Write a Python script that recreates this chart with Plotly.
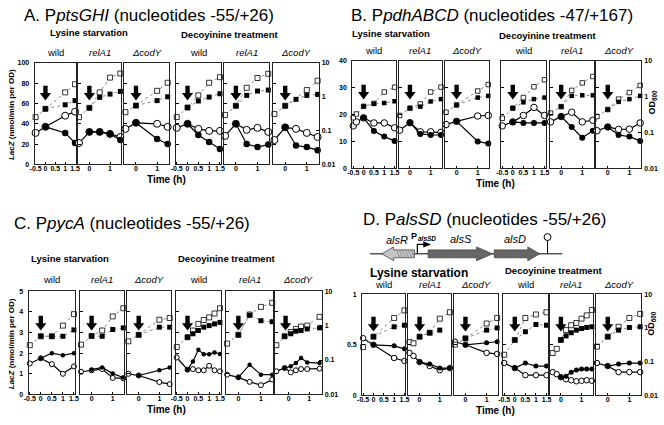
import plotly.graph_objects as go

W, H = 664, 425
FONT = "Liberation Sans, Arial, Helvetica, sans-serif"

# ---------------- data (time in h; OD600 and LacZ in nmol/min per OD) ----------------
# odo/odf: OD600 without / with treatment (open / filled squares)
# lzo/lzf: LacZ activity without / with treatment (open / filled circles)
A_LYS_WILD = dict(odo=([-0.5, 0, 1, 1.5], [0.25, 0.44, 1.35, 2.35]),
                  odf=([0, 1, 1.5], [0.44, 0.58, 0.77]),
                  lzo=([-0.5, 0, 1, 1.5], [31, 37, 48, 52]),
                  lzf=([0, 1, 1.5], [37, 31, 21]))
A_LYS_REL = dict(odo=([-0.5, 0, 0.5, 1, 1.5], [0.25, 0.47, 1.35, 3.7, 4.9]),
                 odf=([0, 0.5, 1, 1.5], [0.47, 0.96, 1.2, 1.44]),
                 lzo=([-0.5, 0, 0.5, 1, 1.5], [21, 32, 32, 30, 27]),
                 lzf=([0, 0.5, 1, 1.5], [32, 32, 30, 24]))
A_LYS_COD = dict(odo=([-0.5, 0, 1, 1.5], [0.35, 0.55, 1.5, 2.6]),
                 odf=([0, 1, 1.5], [0.55, 0.77, 1.0]),
                 lzo=([-0.5, 0, 1, 1.5], [35, 41, 40, 37]),
                 lzf=([0, 1, 1.5], [41, 25, 20]))
A_DEC_WILD = dict(odo=([-0.5, 0, 0.5, 1, 1.5], [0.25, 0.48, 1.1, 2.6, 3.8]),
                  odf=([0, 0.5, 1, 1.5], [0.48, 0.75, 0.98, 1.23]),
                  lzo=([-0.5, 0, 0.5, 1, 1.5], [36, 40, 35, 33, 33]),
                  lzf=([0, 0.5, 1, 1.5], [40, 29, 22, 15]))
A_DEC_REL = dict(odo=([-0.5, 0, 0.5, 1, 1.5], [0.29, 0.54, 1.85, 3.6, 4.8]),
                 odf=([0, 0.5, 1, 1.5], [0.54, 1.1, 1.48, 1.58]),
                 lzo=([-0.5, 0, 0.5, 1, 1.5], [28, 40, 34, 36, 32]),
                 lzf=([0, 0.5, 1, 1.5], [40, 20, 17, 19.5]))
A_DEC_COD = dict(odo=([-0.5, 0, 1, 1.5], [0.31, 0.54, 1.58, 3.0]),
                 odf=([0, 0.5, 1, 1.5], [0.54, 0.84, 1.1, 1.18]),
                 lzo=([-0.5, 0, 0.5, 1, 1.5], [24, 36.5, 35, 31, 27]),
                 lzf=([0, 0.5, 1, 1.5], [36.5, 18.6, 17, 14]))

B_LYS_WILD = dict(odo=([-0.5, -0.35, 0, 0.5, 1, 1.5], [0.26, 0.33, 0.54, 0.65, 1.36, 1.86]),
                  odf=([0, 0.5, 1, 1.5], [0.54, 0.64, 0.67, 0.75]),
                  lzo=([-0.5, -0.35, 0, 0.5, 1, 1.5], [15.8, 17.3, 18.8, 16.9, 16.9, 15.1]),
                  lzf=([0, 0.5, 1, 1.5], [18.8, 13.9, 11.8, 10.2]))
B_LYS_REL = dict(odo=([-0.5, 0, 0.5, 1, 1.5], [0.30, 0.48, 0.63, 1.36, 1.86]),
                 odf=([0, 0.5, 1, 1.5], [0.48, 0.53, 0.74, 0.86]),
                 lzo=([-0.5, 0, 0.5, 1, 1.5], [14.2, 17.0, 13.6, 13.6, 13.4]),
                 lzf=([0, 0.5, 1, 1.5], [17.0, 12.8, 12.4, 12.4]))
B_LYS_COD = dict(odo=([-0.5, 0, 1, 1.5], [0.37, 0.59, 1.45, 2.2]),
                 odf=([0, 1, 1.5], [0.59, 0.95, 1.06]),
                 lzo=([-0.5, 0, 1, 1.5], [16.3, 17.5, 19.5, 19.7]),
                 lzf=([0, 1, 1.5], [17.5, 10.0, 9.2]))
B_DEC_WILD = dict(odo=([-0.5, 0, 0.5, 1, 1.5], [0.25, 0.48, 0.95, 1.9, 3.0]),
                  odf=([0, 0.5, 1, 1.5], [0.48, 0.70, 0.86, 0.95]),
                  lzo=([-0.5, 0, 0.5, 1, 1.5], [15.8, 17.3, 19.7, 22.7, 19.7]),
                  lzf=([0, 0.5, 1, 1.5], [17.3, 16.9, 16.9, 16.9]))
B_DEC_REL = dict(odo=([-0.5, 0, 0.5, 1, 1.5], [0.35, 0.53, 1.51, 2.45, 3.7]),
                 odf=([0, 0.5, 1, 1.5], [0.53, 1.06, 1.10, 1.10]),
                 lzo=([-0.5, 0, 0.5, 1, 1.5], [17.3, 19.3, 20.9, 17.3, 17.9]),
                 lzf=([0, 0.5, 1, 1.5], [19.3, 15.4, 11.4, 14.0]))
B_DEC_COD = dict(odo=([-0.5, 0, 0.5, 1, 1.5], [0.28, 0.44, 0.86, 1.31, 2.07]),
                 odf=([0, 0.5, 1, 1.5], [0.44, 0.72, 0.86, 1.06]),
                 lzo=([-0.5, 0, 0.5, 1, 1.5], [14.0, 15.4, 14.5, 14.6, 16.9]),
                 lzf=([0, 0.5, 1, 1.5], [15.4, 12.4, 11.8, 10.2]))

C_LYS_WILD = dict(odo=([-0.5, 0, 0.5, 1, 1.5], [0.27, 0.49, 0.49, 1.0, 2.15]),
                  odf=([0, 0.5, 1, 1.5], [0.49, 0.49, 0.49, 0.75]),
                  lzo=([-0.5, 0, 0.5, 1, 1.5], [1.5, 1.75, 1.47, 1.0, 1.36]),
                  lzf=([0, 0.5, 1, 1.5], [1.75, 2.0, 1.9, 2.0]))
C_LYS_REL = dict(odo=([-0.5, 0, 0.5, 1, 1.5], [0.28, 0.50, 0.72, 1.85, 3.2]),
                 odf=([0, 0.5, 1, 1.5], [0.50, 0.49, 0.77, 0.86]),
                 lzo=([-0.5, 0, 0.5, 1, 1.5], [1.1, 1.17, 1.23, 0.8, 0.78]),
                 lzf=([0, 0.5, 1, 1.5], [1.2, 1.31, 1.01, 0.82]))
C_LYS_COD = dict(odo=([-0.5, 0, 1, 1.5], [0.35, 0.54, 1.48, 1.66]),
                 odf=([0, 1, 1.5], [0.54, 0.9, 0.9]),
                 lzo=([-0.5, 0, 1, 1.5], [1.0, 0.92, 0.6, 0.5]),
                 lzf=([0, 1, 1.5], [0.92, 1.17, 1.3]))
C_DEC_WILD = dict(odo=([-0.5, 0, 0.25, 0.5, 0.75, 1, 1.25, 1.5], [0.24, 0.46, 0.72, 1.12, 1.45, 1.73, 2.25, 3.2]),
                  odf=([0, 0.25, 0.5, 0.75, 1, 1.25, 1.5], [0.46, 0.58, 0.72, 0.9, 1.0, 1.12, 1.24]),
                  lzo=([-0.5, 0, 0.25, 0.5, 0.75, 1, 1.25, 1.5], [1.79, 1.2, 1.23, 1.17, 1.17, 1.39, 1.17, 1.12]),
                  lzf=([0, 0.25, 0.5, 0.75, 1, 1.25, 1.5], [1.2, 1.6, 2.16, 1.95, 1.95, 2.03, 1.96]))
C_DEC_REL = dict(odo=([-0.5, 0, 0.5, 1, 1.5], [0.30, 0.54, 2.1, 3.5, 4.6]),
                 odf=([0, 0.5, 1, 1.5], [0.54, 2.0, 1.39, 1.3]),
                 lzo=([-0.5, 0, 0.5, 1, 1.5], [0.96, 0.83, 0.61, 0.45, 0.72]),
                 lzf=([0, 0.5, 1, 1.5], [0.83, 1.44, 0.96, 0.96]))
C_DEC_COD = dict(odo=([-0.6, -0.2, 0.1, 0.35, 0.6, 0.9, 1.5], [0.27, 0.49, 0.65, 0.80, 0.94, 1.0, 1.8]),
                 odf=([-0.2, 0.1, 0.35, 0.6, 0.9, 1.5], [0.49, 0.58, 0.69, 0.72, 0.80, 0.86]),
                 lzo=([-0.6, -0.2, 0.1, 0.35, 0.6, 0.9, 1.5], [1.12, 1.28, 1.07, 1.17, 1.23, 1.23, 1.25]),
                 lzf=([-0.2, 0.1, 0.35, 0.6, 0.9, 1.5], [1.28, 1.36, 1.52, 1.76, 1.55, 1.52]))

D_LYS_WILD = dict(odo=([-0.5, 0, 1, 1.5], [0.27, 0.55, 1.97, 3.3]),
                  odf=([0, 1, 1.5], [0.55, 1.08, 1.2]),
                  lzo=([-0.5, 0, 1, 1.5], [0.565, 0.5, 0.37, 0.34]),
                  lzf=([0, 1, 1.5], [0.5, 0.49, 0.46]))
D_LYS_REL = dict(odo=([-0.5, -0.3, 0, 0.5, 1, 1.5], [0.38, 0.35, 0.55, 0.72, 1.88, 2.9]),
                 odf=([0, 0.5, 1], [0.55, 0.72, 0.86]),
                 lzo=([-0.5, -0.3, 0, 0.5, 1, 1.5], [0.42, 0.39, 0.33, 0.29, 0.25, 0.27]),
                 lzf=([0, 0.5, 1, 1.5], [0.33, 0.31, 0.27, 0.27]))
D_LYS_COD = dict(odo=([-0.5, 0, 1, 1.5], [0.32, 0.49, 1.35, 1.97]),
                 odf=([0, 1, 1.5], [0.49, 0.86, 1.0]),
                 lzo=([-0.5, 0, 1, 1.5], [0.53, 0.5, 0.42, 0.41]),
                 lzf=([0, 1, 1.5], [0.5, 0.52, 0.53]))
D_DEC_WILD = dict(odo=([-0.5, 0, 0.5, 1, 1.5], [0.16, 0.44, 1.97, 2.5, 2.9]),
                  odf=([0, 0.5, 1, 1.5], [0.44, 0.77, 1.26, 1.2]),
                  lzo=([-0.5, 0, 0.5, 1, 1.5], [0.32, 0.27, 0.2, 0.2, 0.2]),
                  lzf=([0, 0.5, 1, 1.5], [0.27, 0.32, 0.29, 0.29]))
D_DEC_REL = dict(odo=([-0.4, -0.2, 0, 0.25, 0.5, 0.75, 1, 1.25, 1.5], [0.18, 0.24, 0.44, 0.86, 1.2, 1.4, 1.88, 2.35, 3.4]),
                 odf=([0, 0.25, 0.5, 0.75, 1, 1.25, 1.5], [0.44, 0.58, 0.72, 0.86, 0.96, 1.03, 1.08]),
                 lzo=([-0.4, -0.2, 0, 0.25, 0.5, 0.75, 1, 1.25, 1.5], [0.23, 0.21, 0.18, 0.16, 0.15, 0.14, 0.145, 0.15, 0.145]),
                 lzf=([0, 0.25, 0.5, 0.75, 1, 1.25, 1.5], [0.18, 0.19, 0.23, 0.25, 0.26, 0.26, 0.26]))
D_DEC_COD = dict(odo=([-0.5, 0, 0.5, 1, 1.5], [0.28, 0.55, 1.08, 1.97, 2.6]),
                 odf=([0, 0.5, 1, 1.5], [0.55, 0.86, 1.03, 1.08]),
                 lzo=([-0.5, 0, 0.5, 1, 1.5], [0.32, 0.29, 0.23, 0.23, 0.23]),
                 lzf=([0, 0.5, 1, 1.5], [0.29, 0.31, 0.32, 0.32]))

STRAINS = ["wild", "<i>relA1</i>", "<i>\u0394codY</i>"]
WILD_TICKS = [-0.5, 0, 0.5, 1, 1.5]
MUT_TICKS = [0, 1]
OD_TICKS = [0.01, 0.1, 1, 10]

# ---------------- layout configuration (pixels) ----------------
PANELS = [
    dict(title="A. P<i>ptsGHI</i> (nucleotides -55/+26)", tx=17, ty=12,
         subs=[A_LYS_WILD, A_LYS_REL, A_LYS_COD, A_DEC_WILD, A_DEC_REL, A_DEC_COD],
         boxes=[(30, 72), (74, 118), (121, 166), (173, 219), (222, 268), (272, 318)],
         ybox=(60, 163), ymax=100, dtick=20, arrow_tip=98, csize=7, ssize=5,
         lys=(85, 29, 9.5), dec=(228, 31), strain_y=49, time=(164, 178),
         lacz=(6, 112), od=None),
    dict(title="B. P<i>pdhABCD</i> (nucleotides -47/+167)", tx=349, ty=12,
         subs=[B_LYS_WILD, B_LYS_REL, B_LYS_COD, B_DEC_WILD, B_DEC_REL, B_DEC_COD],
         boxes=[(352, 396), (399, 443), (446, 491), (503, 548), (552, 597), (599, 645)],
         ybox=(58, 167), ymax=40, dtick=10, arrow_tip=97, csize=6.5, ssize=4.5,
         lys=(391, 30, 9.5), dec=(550, 32), strain_y=47, time=(497, 182),
         lacz=None, od=(656, 100)),
    dict(title="C. P<i>pycA</i> (nucleotides -55/+26)", tx=7, ty=223,
         subs=[C_LYS_WILD, C_LYS_REL, C_LYS_COD, C_DEC_WILD, C_DEC_REL, C_DEC_COD],
         boxes=[(24, 71), (76, 121), (124, 168), (173, 219), (224, 272), (274, 321)],
         ybox=(292, 397), ymax=5, dtick=1, arrow_tip=332, csize=5, ssize=5,
         lys=(66, 259, 9.5), dec=(225, 259), strain_y=280, time=(164, 412),
         lacz=(6, 345), od=None),
    dict(title="D. P<i>alsSD</i> (nucleotides -55/+26)", tx=361, ty=219,
         subs=[D_LYS_WILD, D_LYS_REL, D_LYS_COD, D_DEC_WILD, D_DEC_REL, D_DEC_COD],
         boxes=[(362, 406), (409, 452), (455, 500), (505, 550), (552, 596), (599, 645)],
         ybox=(295, 398), ymax=1, dtick=0.5, arrow_tip=333, csize=5.5, ssize=5,
         lys=(420, 274, 12), dec=(556, 271), strain_y=285, time=(497, 413),
         lacz=None, od=(656, 325)),
]


def axname(prefix, n):
    return prefix if n == 1 else f"{prefix}{n}"


tickfont = dict(family=FONT, size=7, color="black", weight="bold")
fig = go.Figure()
layout = {}
shapes = []
annotations = []

PX_X, PX_Y = 25, 49  # hidden pixel-coordinate axes


def ann(x, y, text, size, **kw):
    d = dict(x=x, y=y, xref=f"x{PX_X}", yref=f"y{PX_Y}", text=text, showarrow=False,
             font=dict(family=FONT, size=size, color="black"))
    d.update(kw)
    annotations.append(d)


sp = 0
for P in PANELS:
    y0, y1 = P["ybox"]
    for bi, (sub, (bx0, bx1)) in enumerate(zip(P["subs"], P["boxes"])):
        sp += 1
        xa, yl, yr = axname("x", sp), axname("y", 2 * sp - 1), axname("y", 2 * sp)
        ticks = WILD_TICKS if bi in (0, 3) else MUT_TICKS
        xr = [-0.55, 1.55]
        if sub is C_DEC_COD:
            xr = [-0.65, 1.6]
        layout[axname("xaxis", sp)] = dict(
            domain=[bx0 / W, bx1 / W], range=xr, anchor=yl,
            tickvals=ticks, ticktext=[("%g" % t) for t in ticks], tickangle=0,
            ticks="inside", ticklen=2, tickcolor="black", ticklabelstandoff=-3,
            showline=True, mirror=True, linecolor="#222", linewidth=1,
            showgrid=False, zeroline=False, tickfont=tickfont, fixedrange=True)
        ydom = [1 - y1 / H, 1 - y0 / H]
        layout[axname("yaxis", 2 * sp - 1)] = dict(
            domain=ydom, range=[0, P["ymax"]], anchor=xa, dtick=P["dtick"],
            ticks="inside", ticklen=3, tickcolor="black", ticklabelstandoff=3,
            showticklabels=(bi == 0), showline=True, mirror=True,
            linecolor="#222", linewidth=1, showgrid=False, zeroline=False,
            tickfont=tickfont, fixedrange=True)
        layout[axname("yaxis", 2 * sp)] = dict(
            domain=ydom, type="log", range=[-2, 1], anchor=xa, overlaying=yl,
            side="right", tickvals=OD_TICKS, ticktext=["0.01", "0.1", "1", "10"],
            ticks="inside" if bi == 5 else "", ticklen=3, tickcolor="black",
            ticklabelstandoff=2,
            showticklabels=(bi == 5), visible=(bi == 5), showline=False,
            showgrid=False, zeroline=False, tickfont=tickfont, fixedrange=True)

        cs, ss = P["csize"], P["ssize"]
        # LacZ circles
        fig.add_trace(go.Scatter(x=sub["lzo"][0], y=sub["lzo"][1], xaxis=xa, yaxis=yl,
                                 mode="lines+markers", cliponaxis=False,
                                 line=dict(color="black", width=1.2),
                                 marker=dict(symbol="circle", size=cs, color="white",
                                             line=dict(color="black", width=1)),
                                 showlegend=False, hoverinfo="skip"))
        fig.add_trace(go.Scatter(x=sub["lzf"][0], y=sub["lzf"][1], xaxis=xa, yaxis=yl,
                                 mode="lines+markers", cliponaxis=False,
                                 line=dict(color="black", width=1.2),
                                 marker=dict(symbol="circle", size=cs - 0.5, color="black"),
                                 showlegend=False, hoverinfo="skip"))
        # OD squares (log axis)
        fig.add_trace(go.Scatter(x=sub["odo"][0], y=sub["odo"][1], xaxis=xa, yaxis=yr,
                                 mode="lines+markers", cliponaxis=False,
                                 line=dict(color="#8a8a8a", width=1, dash="dot"),
                                 marker=dict(symbol="square", size=ss, color="white",
                                             line=dict(color="black", width=0.8)),
                                 showlegend=False, hoverinfo="skip"))
        fig.add_trace(go.Scatter(x=sub["odf"][0], y=sub["odf"][1], xaxis=xa, yaxis=yr,
                                 mode="lines+markers", cliponaxis=False,
                                 line=dict(color="#8a8a8a", width=1, dash="dot"),
                                 marker=dict(symbol="square", size=ss, color="black"),
                                 showlegend=False, hoverinfo="skip"))

        # treatment arrow
        tip = P["arrow_tip"]
        ax_t = -0.15 if sub is C_DEC_COD else 0
        shapes.append(dict(type="path", xref=xa, yref=f"y{PX_Y}", xsizemode="pixel",
                           xanchor=ax_t,
                           path=(f"M-2.2,{tip-15} L2.2,{tip-15} L2.2,{tip-7.5} L5.6,{tip-7.5} "
                                 f"L0,{tip} L-5.6,{tip-7.5} L-2.2,{tip-7.5} Z"),
                           fillcolor="black", line=dict(width=0)))
        # strain label
        ann((bx0 + bx1) / 2, P["strain_y"], STRAINS[bi % 3], 9.5)

    # panel texts
    ann(P["tx"], P["ty"], P["title"], 17, xanchor="left")
    lx, ly, ls = P["lys"]
    ann(lx, ly, "<b>Lysine starvation</b>", ls)
    ann(P["dec"][0], P["dec"][1], "<b>Decoyinine treatment</b>", 9.5)
    ann(P["time"][0], P["time"][1], "<b>Time (h)</b>", 10)
    if P["lacz"]:
        ann(P["lacz"][0], P["lacz"][1], "<b><i>LacZ</i> (nmol/min per OD)</b>", 8, textangle=-90)
    if P["od"]:
        ann(P["od"][0], P["od"][1], "<b>OD<sub>600</sub></b>", 9, textangle=-90)

# ---------------- gene map (panel D) ----------------
def pxshape(**kw):
    d = dict(xref=f"x{PX_X}", yref=f"y{PX_Y}")
    d.update(kw)
    shapes.append(d)


pxshape(type="line", x0=370, y0=254, x1=565, y1=254, line=dict(color="black", width=1))
pxshape(type="path", path="M382,254 L394,247 L394,250 L415,250 L415,258 L394,258 L394,261 Z",
        fillcolor="#c4c4c4", line=dict(color="#444", width=0.8))
for k in range(6):
    xx = 397 + 3 * k
    pxshape(type="line", x0=xx, y0=250, x1=xx + 3, y1=258, line=dict(color="#777", width=0.6))
pxshape(type="path", path="M429,250 L478,250 L478,247 L494,254 L478,261 L478,258 L429,258 Z",
        fillcolor="#666", line=dict(color="#444", width=0.8))
pxshape(type="path", path="M496,250 L530,250 L530,247 L542,254 L530,261 L530,258 L496,258 Z",
        fillcolor="#666", line=dict(color="#444", width=0.8))
pxshape(type="path", path="M418,254 L418,244.5 L425,244.5", line=dict(color="black", width=1.2))
pxshape(type="path", path="M424,241.3 L432,244.5 L424,247.7 Z", fillcolor="black", line=dict(width=0))
pxshape(type="line", x0=550, y0=254, x1=550, y1=240.5, line=dict(color="black", width=1))
pxshape(type="circle", x0=546.5, y0=233.5, x1=553.5, y1=240.5, fillcolor="white",
        line=dict(color="black", width=1))
ann(397, 240, "<i>alsR</i>", 11)
ann(410, 235.5, "<b>P</b>", 9, xanchor="left")
ann(416.5, 238.5, "<b><i>alsSD</i></b>", 6.5, xanchor="left")
ann(462, 239, "<i>alsS</i>", 11)
ann(517, 239, "<i>alsD</i>", 11)

# hidden pixel axes spanning the whole page
layout[f"xaxis{PX_X}"] = dict(domain=[0, 1], range=[0, W], visible=False, anchor=f"y{PX_Y}", fixedrange=True)
layout[f"yaxis{PX_Y}"] = dict(domain=[0, 1], range=[H, 0], visible=False, anchor=f"x{PX_X}", fixedrange=True)
fig.add_trace(go.Scatter(x=[0], y=[0], xaxis=f"x{PX_X}", yaxis=f"y{PX_Y}", mode="markers",
                         marker=dict(opacity=0), showlegend=False, hoverinfo="skip"))

fig.update_layout(**layout)
fig.update_layout(width=W, height=H, margin=dict(l=0, r=0, t=0, b=0),
                  paper_bgcolor="white", plot_bgcolor="rgba(0,0,0,0)",
                  shapes=shapes, annotations=annotations, showlegend=False,
                  font=dict(family=FONT, color="black"))
fig.write_html("out.html", config=dict(displayModeBar=False),
               post_script="document.body.style.margin='0';document.body.style.padding='0';"
                           "document.body.style.overflow='hidden';")
